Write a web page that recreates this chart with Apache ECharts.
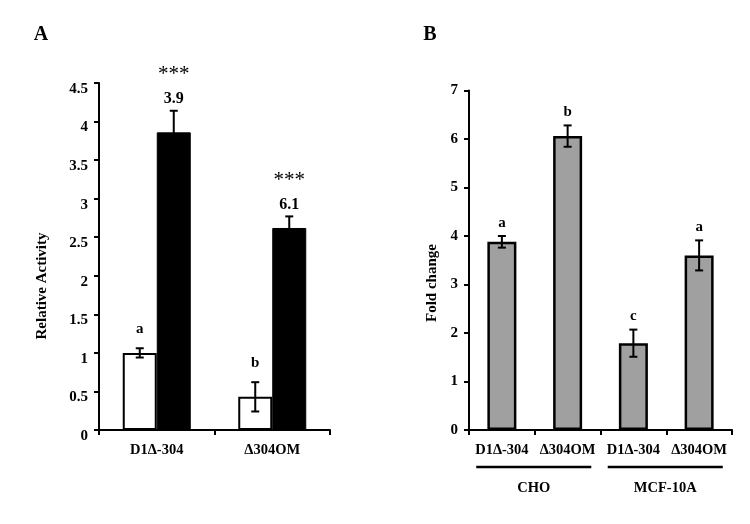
<!DOCTYPE html>
<html><head><meta charset="utf-8">
<script src="https://cdn.jsdelivr.net/npm/echarts@6/dist/echarts.min.js"></script>
<style>html,body{margin:0;padding:0;background:#fff}#c{width:750px;height:524px}</style>
</head><body><div id="c"></div>
<script>
// ---- Panel A data ----
var catsA = ['D1\u0394-304', '\u0394304OM'];
var whiteA = [1.0, 0.43];
var whiteErrA = [0.06, 0.19];
var whiteLettersA = ['a', 'b'];
var blackA = [3.86, 2.62];
var blackErrA = [0.28, 0.15];
var blackFoldA = ['3.9', '6.1'];
var blackStarsA = ['***', '***'];
var yTicksA = {min: 0, max: 4.5, interval: 0.5};

// ---- Panel B data ----
var catsB = ['D1\u0394-304', '\u0394304OM', 'D1\u0394-304', '\u0394304OM'];
var valsB = [3.88, 6.06, 1.79, 3.60];
var errB = [0.12, 0.22, 0.28, 0.31];
var lettersB = ['a', 'b', 'c', 'a'];
var groupNamesB = ['CHO', 'MCF-10A'];
var groupStartB = [0, 2];
var groupEndB = [1, 3];
var yTicksB = {min: 0, max: 7, interval: 1};

var FONT = 'Liberation Serif';
function font(size){ return 'bold ' + size + 'px "' + FONT + '"'; }

function errorSeries(axisIdx, vals, errs, dx, annots) {
  return {
    type: 'custom', xAxisIndex: axisIdx, yAxisIndex: axisIdx, z: 10, silent: true,
    data: vals.map(function(v, i){ return [i, v, errs[i]]; }),
    encode: {x: 0, y: 1},
    renderItem: function(params, api) {
      var i = api.value(0), v = api.value(1), e = api.value(2);
      var top = api.coord([i, v + e]);
      var bot = api.coord([i, v - e]);
      var x = top[0] + dx, cap = 4;
      var st = {stroke: '#000', lineWidth: 2};
      var children = [
        {type: 'line', shape: {x1: x, y1: top[1], x2: x, y2: bot[1]}, style: st},
        {type: 'line', shape: {x1: x - cap, y1: top[1], x2: x + cap, y2: top[1]}, style: st},
        {type: 'line', shape: {x1: x - cap, y1: bot[1], x2: x + cap, y2: bot[1]}, style: st}
      ];
      annots.forEach(function(a){
        children.push({type: 'text', style: {text: a.texts[i], x: x, y: top[1] - a.dy,
          align: 'center', verticalAlign: 'middle', font: a.weight + ' ' + a.size + 'px "' + FONT + '"', fill: '#000'}});
      });
      return {type: 'group', children: children};
    }
  };
}

var axisLineStyle = {show: true, lineStyle: {color: '#000', width: 2}};
var tickStyle = {show: true, length: 5, lineStyle: {color: '#000', width: 2}};

function yAxis(idx, t, shifted) {
  var lab = {color: '#000', fontFamily: FONT, fontWeight: 'bold', fontSize: 15, margin: 11};
  if (shifted) { lab.verticalAlign = 'top'; lab.lineHeight = 12; }
  return {type: 'value', gridIndex: idx, min: t.min, max: t.max, interval: t.interval,
    axisLine: axisLineStyle, axisTick: tickStyle, splitLine: {show: false}, axisLabel: lab};
}
function xAxis(idx, cats) {
  return {type: 'category', gridIndex: idx, data: cats,
    axisLine: axisLineStyle, axisTick: tickStyle,
    axisLabel: {color: '#000', fontFamily: FONT, fontWeight: 'bold', fontSize: 14.5, margin: 13, interval: 0}};
}

var chart = echarts.init(document.getElementById('c'), null, {renderer: 'canvas'});
chart.setOption({
  animation: false,
  backgroundColor: '#fff',
  grid: [
    {left: 99, top: 83, width: 231, height: 347},
    {left: 469, top: 90.5, width: 263, height: 339.5}
  ],
  xAxis: [xAxis(0, catsA), xAxis(1, catsB)],
  yAxis: [yAxis(0, yTicksA, true), yAxis(1, yTicksB, false)],
  graphic: [
    {type: 'text', x: 41, y: 35, style: {text: 'A', font: font(20), align: 'center', verticalAlign: 'middle', fill: '#000'}},
    {type: 'text', x: 430, y: 35, style: {text: 'B', font: font(20), align: 'center', verticalAlign: 'middle', fill: '#000'}},
    {type: 'text', x: 42, y: 286, rotation: Math.PI / 2, style: {text: 'Relative Activity', font: font(15), align: 'center', verticalAlign: 'middle', fill: '#000'}},
    {type: 'text', x: 432, y: 283, rotation: Math.PI / 2, style: {text: 'Fold change', font: font(15), align: 'center', verticalAlign: 'middle', fill: '#000'}}
  ],
  series: [
    {type: 'bar', xAxisIndex: 0, yAxisIndex: 0, data: whiteA, barWidth: 34, barGap: '0%',
      itemStyle: {color: '#fff', borderColor: '#000', borderWidth: 2}},
    {type: 'bar', xAxisIndex: 0, yAxisIndex: 0, data: blackA, barWidth: 34, barGap: '0%',
      itemStyle: {color: '#000', borderColor: '#000', borderWidth: 1}},
    errorSeries(0, whiteA, whiteErrA, -17, [{texts: whiteLettersA, dy: 19, size: 15, weight: 'bold'}]),
    errorSeries(0, blackA, blackErrA, 17, [{texts: blackFoldA, dy: 12, size: 16, weight: 'bold'}, {texts: blackStarsA, dy: 36, size: 21, weight: 'normal'}]),
    {type: 'bar', xAxisIndex: 1, yAxisIndex: 1, data: valsB, barWidth: 29,
      itemStyle: {color: '#a0a0a0', borderColor: '#000', borderWidth: 2.5}},
    errorSeries(1, valsB, errB, 0, [{texts: lettersB, dy: 13, size: 15, weight: 'bold'}]),
    {type: 'custom', xAxisIndex: 1, yAxisIndex: 1, silent: true, z: 10,
      data: groupStartB.map(function(s, i){ return [s, groupEndB[i], i]; }),
      encode: {x: [0, 1]},
      renderItem: function(params, api) {
        var s = api.value(0), e = api.value(1), gi = api.value(2);
        var bw = api.size([1, 0])[0];
        var p0 = api.coord([s, 0]), p1 = api.coord([e, 0]);
        var x0 = p0[0] - bw * 0.39, x1 = p1[0] + bw * 0.36, y = p0[1] + 37;
        return {type: 'group', children: [
          {type: 'line', shape: {x1: x0, y1: y, x2: x1, y2: y}, style: {stroke: '#000', lineWidth: 2.5}},
          {type: 'text', style: {text: groupNamesB[gi], x: (x0 + x1) / 2, y: y + 21, align: 'center', verticalAlign: 'middle', font: font(14.5), fill: '#000'}}
        ]};
      }
    }
  ]
});
</script></body></html>
